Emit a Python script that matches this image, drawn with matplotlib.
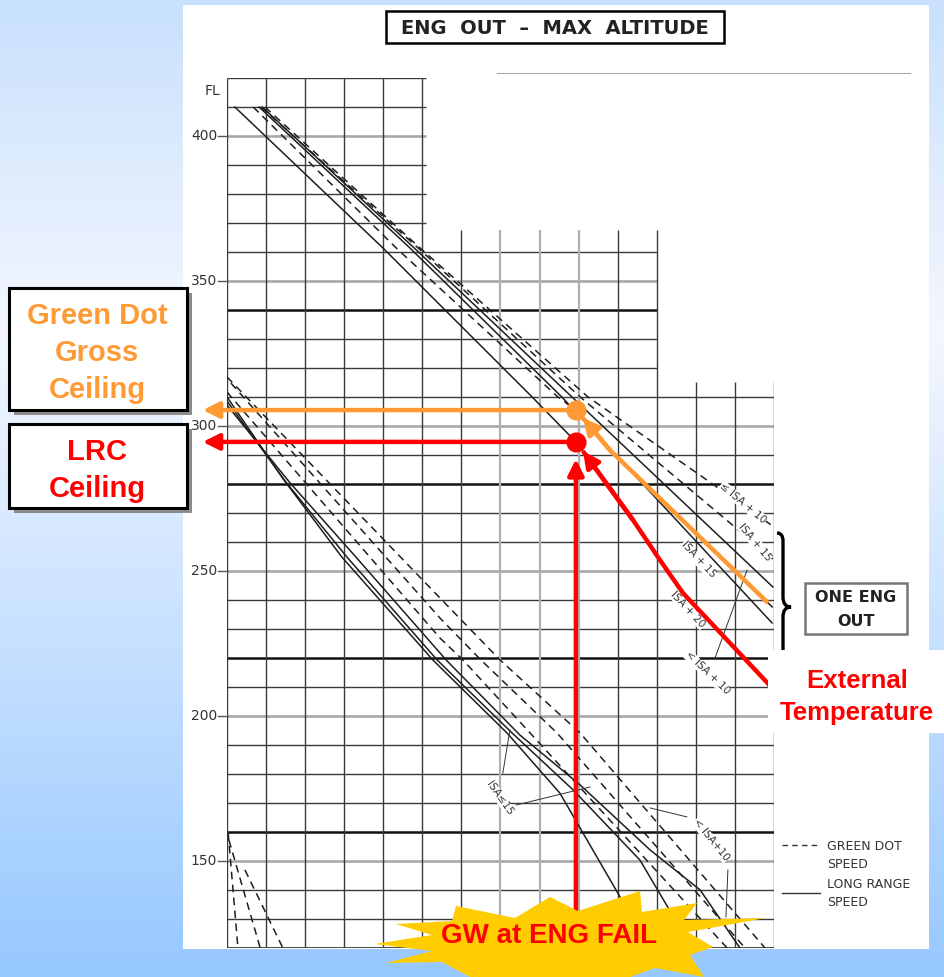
import numpy as np
import matplotlib
matplotlib.use("Agg")
import matplotlib.pyplot as plt
from matplotlib.patches import Rectangle, Polygon, PathPatch
from matplotlib.path import Path

W, H = 945, 977

# --- values: x = gross weight (grid columns), y = flight level
# one engine out group (upper)
lrc20_gw = [0.20, 3.99, 7.81, 8.96, 10.39, 11.08, 11.67, 14.0]
lrc20_fl = [410, 361.4, 310, 294.1, 267.6, 253.8, 242.4, 209.0]
lrc15_gw = [0.82, 4.68, 8.57, 13.95]
lrc15_fl = [410, 361.4, 310, 232.1]
lrc10_gw = [0.90, 4.79, 8.83, 13.97]
lrc10_fl = [410, 361.4, 310, 244.5]
gd20_gw = [0.67, 4.33, 8.47, 8.96, 9.80, 14.0]
gd20_fl = [410, 361.4, 310, 305.2, 291.7, 237.0]
gd15_gw = [0.87, 4.89, 9.04, 14.0]
gd15_fl = [410, 361.4, 310, 253.8]
gd10_gw = [0.97, 4.94, 9.24, 14.0]
gd10_fl = [410, 361.4, 310, 265.2]

# lower group
s1_gw = [0, 1.45, 2.94, 5.27, 7.17, 8.52, 10.06, 10.96]
s1_fl = [310.0, 281.5, 254.8, 219.3, 194.1, 173.4, 137.6, 120]
s2_gw = [0, 1.50, 3.07, 5.38, 7.30, 8.86, 10.57, 11.90]
s2_fl = [308.6, 280.8, 254.8, 219.3, 194.1, 174.5, 150.3, 120]
s3_gw = [0, 1.60, 3.30, 5.61, 7.50, 9.04, 10.83, 12.11, 13.13]
s3_fl = [307.2, 280.6, 254.8, 219.3, 193.4, 176.2, 153.8, 140.0, 120]
d1_gw = [0, 5.45, 6.04, 7.76, 12.80]
d1_fl = [311.7, 226.9, 219.3, 194.1, 120]
d2_gw = [0.10, 5.45, 6.50, 8.45, 13.26]
d2_fl = [314.8, 233.8, 219.3, 194.1, 120]
d3_gw = [0, 5.45, 6.99, 9.04, 13.77]
d3_fl = [316.9, 240.7, 219.3, 194.1, 120]

# bottom-left dashed stubs
e1_gw, e1_fl = [0.03, 0.28], [159.7, 120]
e2_gw, e2_fl = [0.05, 0.85], [157.2, 120]
e3_gw, e3_fl = [0.46, 1.43], [146.9, 120]

fl_ticks = [150, 200, 250, 300, 350, 400]
gw_fail = 8.93

ORANGE = "#FF9933"
RED = "#FF0000"
INK = "#1e1e1e"
CHART_FONT = ["Liberation Sans Narrow", "DejaVu Sans"]
BOLD_FONT = ["Liberation Sans", "DejaVu Sans"]

fig = plt.figure(figsize=(W / 100, H / 100), dpi=100)

# background gradient + white sheet
bg = fig.add_axes([0, 0, 1, 1], zorder=0)
bg.set_xlim(0, W)
bg.set_ylim(H, 0)
bg.axis("off")
t = np.linspace(0, 1, H)
stops = [0, 0.34, 1]
grad = np.stack([np.interp(t, stops, [200, 244, 150]),
                 np.interp(t, stops, [224, 247, 200]),
                 np.interp(t, stops, [252, 255, 255])], axis=1)[:, None, :] / 255
bg.imshow(grad, extent=[0, W, H, 0], aspect="auto")
bg.add_patch(Rectangle((183, 5), 746, 944, fc="white", ec="none"))

# chart axes
ax = fig.add_axes([227 / W, (H - 948) / H, 547 / W, 870 / H], zorder=1)
ax.set_xlim(0, 14)
ax.set_ylim(120, 420)
ax.axis("off")

for fl in range(120, 421, 10):
    x1 = 5.1 if fl >= 370 else (11 if fl >= 320 else 14)
    if fl % 50 == 0:
        c, lw = "#a8a8a8", 1.9
    elif fl in (120, 160, 220, 280, 340):
        c, lw = "#111111", 1.8
    else:
        c, lw = "#3a3a3a", 1.0
    ax.plot([0, x1], [fl, fl], color=c, lw=lw, solid_capstyle="butt")

for col in range(15):
    top = 420 if col <= 5 else (367.5 if col <= 11 else 315)
    if col in (7, 8, 9):
        c, lw = "#b0b0b0", 1.6
    else:
        c, lw = "#3a3a3a", 1.0
    ax.plot([col, col], [120, top], color=c, lw=lw, solid_capstyle="butt")

for fl in fl_ticks:
    ax.plot([-0.23, 0], [fl, fl], color="#555555", lw=1.0, clip_on=False)
    ax.text(-0.25, fl, str(fl), ha="right", va="center", fontsize=10,
            color="#333333", family=CHART_FONT)
ax.text(-0.36, 415.5, "FL", ha="center", va="center", fontsize=10,
        color="#333333", family=CHART_FONT)

dash = (0, (5, 3.5))
for gw, fl in [(lrc20_gw, lrc20_fl), (lrc15_gw, lrc15_fl), (lrc10_gw, lrc10_fl),
               (s1_gw, s1_fl), (s2_gw, s2_fl), (s3_gw, s3_fl)]:
    ax.plot(gw, fl, color=INK, lw=1.1)
for gw, fl in [(gd20_gw, gd20_fl), (gd15_gw, gd15_fl), (gd10_gw, gd10_fl),
               (d1_gw, d1_fl), (d2_gw, d2_fl), (d3_gw, d3_fl),
               (e1_gw, e1_fl), (e2_gw, e2_fl), (e3_gw, e3_fl)]:
    ax.plot(gw, fl, color=INK, lw=1.1, ls=dash)

# curve labels
lab = dict(fontsize=7.5, color="#333333", ha="center", va="center",
           rotation_mode="anchor", family=CHART_FONT,
           bbox=dict(fc="white", ec="none", pad=0.3))
ax.text(13.21, 273.4, "\u2264 ISA + 10", rotation=-40, **lab)
ax.text(13.51, 260.0, "ISA + 15", rotation=-50, **lab)
ax.text(12.06, 253.8, "ISA + 15", rotation=-47, **lab)
ax.text(11.80, 236.6, "ISA + 20", rotation=-47, **lab)
ax.text(12.29, 214.8, "< ISA + 10", rotation=-44, **lab)
ax.text(6.99, 171.7, "ISA\u226415", rotation=-55, **lab)
ax.text(12.39, 157.2, "< ISA+10", rotation=-51, **lab)

# leader lines
lead = dict(color="#333333", lw=0.7)
ax.plot([12.49, 13.31], [220.0, 250.3], **lead)
ax.plot([7.06, 7.24], [180.3, 195.2], **lead)
ax.plot([7.40, 9.29], [169.3, 175.5], **lead)
ax.plot([11.77, 10.83], [165.2, 168.3], **lead)
ax.plot([12.82, 12.77], [146.9, 130.7], **lead)

# ceilings at engine failure weight
lrc_ceiling = np.interp(gw_fail, lrc20_gw, lrc20_fl)
gd_ceiling = np.interp(gw_fail, gd20_gw, gd20_fl)


def along(gw, fl, g0, g1):
    pts = [g0] + [g for g in gw if g0 < g < g1] + [g1]
    return pts, np.interp(pts, gw, fl)


head = dict(arrowstyle="-|>", lw=3.2, mutation_scale=24, shrinkA=0, shrinkB=0)

gx, gy = along(lrc20_gw, lrc20_fl, 9.11, 13.9)
ax.plot(gx, gy, color=RED, lw=3.2, solid_capstyle="butt", zorder=6, clip_on=False)
ax.annotate("", xy=(gx[0], gy[0]), xytext=(gx[1], gy[1]),
            arrowprops=dict(color=RED, **head), zorder=6)

ox, oy = along(gd20_gw, gd20_fl, 9.11, 13.85)
ax.plot(ox, oy, color=ORANGE, lw=3.2, solid_capstyle="butt", zorder=6)
ax.annotate("", xy=(ox[0], oy[0]), xytext=(ox[1], oy[1]),
            arrowprops=dict(color=ORANGE, **head), zorder=6)

ax.annotate("", xy=(gw_fail, 288.6), xytext=(gw_fail, 128),
            arrowprops=dict(color=RED, **head), zorder=6)
ax.annotate("", xy=(-0.62, gd_ceiling), xytext=(gw_fail, gd_ceiling),
            arrowprops=dict(color=ORANGE, **head), annotation_clip=False, zorder=6)
ax.annotate("", xy=(-0.62, lrc_ceiling), xytext=(gw_fail, lrc_ceiling),
            arrowprops=dict(color=RED, **head), annotation_clip=False, zorder=6)
ax.plot(gw_fail, gd_ceiling, "o", ms=13.5, color=ORANGE, zorder=7)
ax.plot(gw_fail, lrc_ceiling, "o", ms=13.5, color=RED, zorder=7)

# overlay: boxes, title, legend, callouts
ov = fig.add_axes([0, 0, 1, 1], zorder=2)
ov.set_xlim(0, W)
ov.set_ylim(H, 0)
ov.axis("off")

ov.add_patch(Rectangle((386, 11), 338, 32, fc="white", ec="black", lw=1.8))
ov.text(555, 28, "ENG  OUT  \u2013  MAX  ALTITUDE", ha="center", va="center",
        fontsize=14, fontweight="bold", color="#222222", family=CHART_FONT)
ov.plot([497, 910], [73, 73], color="#aaaaaa", lw=0.8)

# brace
verts = [(777, 533), (783, 533), (783, 541), (783, 597), (783, 607), (791, 607),
         (783, 607), (783, 617), (783, 660)]
codes = [Path.MOVETO, Path.CURVE3, Path.CURVE3, Path.LINETO, Path.CURVE3, Path.CURVE3,
         Path.CURVE3, Path.CURVE3, Path.LINETO]
ov.add_patch(PathPatch(Path(verts, codes), fc="none", ec="black", lw=2.4))

ov.add_patch(Rectangle((805, 583), 102, 51, fc="white", ec="#777777", lw=1.8))
ov.text(856, 598, "ONE ENG", ha="center", va="center", fontsize=11.5,
        fontweight="bold", color="#222222", family=CHART_FONT)
ov.text(856, 621, "OUT", ha="center", va="center", fontsize=11.5,
        fontweight="bold", color="#222222", family=CHART_FONT)

# legend
ov.plot([782, 820], [845, 845], color="#333333", lw=1.0, ls=(0, (4, 3)))
ov.plot([782, 820], [893, 893], color="#333333", lw=1.0)
for y, s in [(846, "GREEN DOT"), (864, "SPEED"), (884, "LONG RANGE"), (903, "SPEED")]:
    ov.text(827, y, s, ha="left", va="center", fontsize=9, color="#333333",
            family=CHART_FONT)

# external temperature callout
ov.add_patch(Rectangle((768, 650), 177, 83, fc="white", ec="none"))
ov.text(857, 681, "External", ha="center", va="center", fontsize=18.5,
        fontweight="bold", color=RED, family=BOLD_FONT)
ov.text(857, 713, "Temperature", ha="center", va="center", fontsize=18.5,
        fontweight="bold", color=RED, family=BOLD_FONT)

# left callout boxes
for (x0, y0, w, h) in [(9, 288, 178, 122), (9, 424, 178, 84)]:
    ov.add_patch(Rectangle((x0 + 5, y0 + 5), w, h, fc="#8c8c8c", ec="none"))
    ov.add_patch(Rectangle((x0, y0), w, h, fc="white", ec="black", lw=2.2))
for y, s in [(316, "Green Dot"), (353, "Gross"), (390, "Ceiling")]:
    ov.text(97, y, s, ha="center", va="center", fontsize=21, fontweight="bold",
            color=ORANGE, family=BOLD_FONT)
for y, s in [(452, "LRC"), (489, "Ceiling")]:
    ov.text(97, y, s, ha="center", va="center", fontsize=21, fontweight="bold",
            color=RED, family=BOLD_FONT)

# starburst
burst = [(375, 944), (432, 935), (396, 924), (452, 921), (456, 906), (515, 918),
         (550, 897), (578, 911), (640, 891), (642, 912), (697, 903), (684, 920),
         (766, 918), (688, 932), (713, 947), (690, 955), (704, 977), (655, 968),
         (630, 977), (470, 977), (442, 962), (386, 963), (432, 951)]
ov.add_patch(Polygon(burst, closed=True, fc="#FFCC00", ec="none"))
ov.text(549, 936, "GW at ENG FAIL", ha="center", va="center", fontsize=20,
        fontweight="bold", color=RED, family=BOLD_FONT)

fig.savefig("out.png", dpi=100)
